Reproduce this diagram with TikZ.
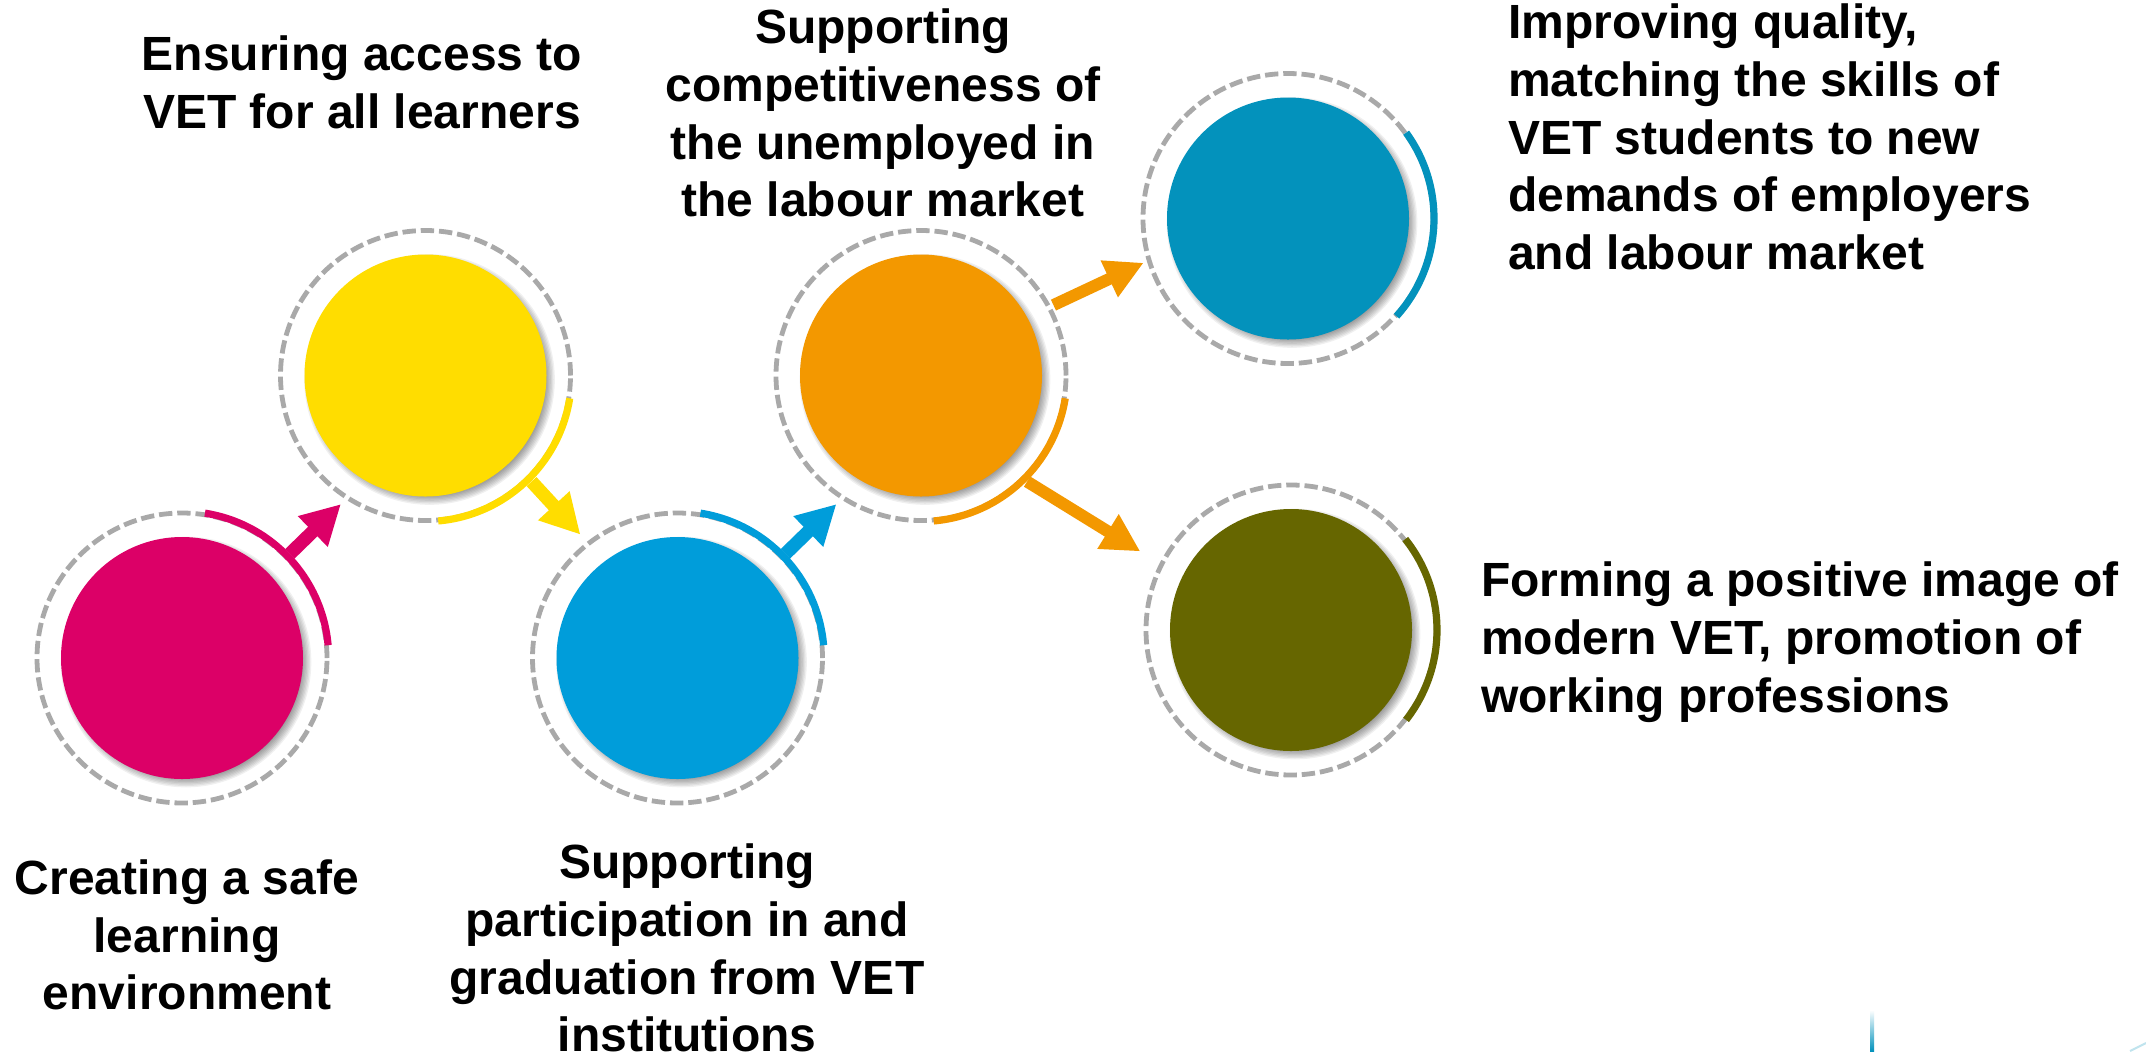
\documentclass[tikz,border=0pt]{standalone}
\usepackage{fontspec}
\setmainfont{Liberation Sans}
\usetikzlibrary{arrows.meta,calc}
\definecolor{cpink}{HTML}{DC0067}
\definecolor{cyellow}{HTML}{FFDD00}
\definecolor{cblue}{HTML}{009DDA}
\definecolor{corange}{HTML}{F39800}
\definecolor{cteal}{HTML}{0392BC}
\definecolor{colive}{HTML}{666600}
\definecolor{cring}{HTML}{A9A9A9}
\tikzset{
  disc/.style={circle,minimum size=181.5pt,inner sep=0pt,outer sep=0pt,fill=#1},
  ring/.style={circle,minimum size=217.5pt,inner sep=0pt,outer sep=3.75pt,draw=cring,line width=3.6pt,dash pattern=on 10pt off 3.7pt},
  link/.style={draw=#1,line width=9pt,-{Triangle[length=28.5pt,width=28.5pt]}},
  biglink/.style={draw=#1,line width=10pt,-{Triangle[length=29.5pt,width=30pt]}},
  swoosh/.style={draw=#1,line width=5.4pt},
  caption/.style={font=\bfseries\fontsize{36pt}{43.3pt}\selectfont,text=black,inner sep=0pt},
}
\newcommand{\bubble}[4]{%
  \foreach \r in {85,86,...,94}{\fill[black,opacity=.06] (#1,#2) ++(3pt,-3pt) circle[radius=\r pt];}
  \node[ring] (#4r) at (#1,#2) {};
  \node[disc=#3] (#4) at (#1,#2) {};
}
\newcommand{\swooshon}[4]{%
  \draw[swoosh=#1] ([shift={(#3:#2pt)}]#4.center) arc[start angle=#3,end angle=\swend,radius=#2pt];
}
\begin{document}
\begin{tikzpicture}[x=0.75pt,y=-0.75pt]
\useasboundingbox (0,0) rectangle (2146,1051);
\fill[white] (0,0) rectangle (2146,1051);
\bubble{182}{658}{cpink}{pink}
\bubble{425.5}{375.5}{cyellow}{yellow}
\bubble{677.5}{658}{cblue}{blue}
\bubble{921}{375.5}{corange}{orange}
\bubble{1288}{218.5}{cteal}{teal}
\bubble{1291}{630}{colive}{olive}
% connectors
\draw[biglink=cpink,shorten >=3pt] (pinkr.44.6) -- (yellowr.237.1);
\draw[biglink=cyellow,shorten >=5.25pt] (yellowr.-45.5) -- (bluer.128.2);
\draw[biglink=cblue,shorten >=3pt] (bluer.44.6) -- (oranger.237.1);
\draw[link=corange,shorten >=.75pt] (oranger.28.7) -- (tealr.197.7);
\draw[link=corange,shorten >=15pt] (oranger.-45) -- (oliver.153.3);
% arcs
\def\swend{5}\swooshon{cpink}{110}{81}{pink}
\swooshon{cblue}{110}{81}{blue}
\def\swend{-9}\swooshon{cyellow}{109.5}{-85}{yellow}
\swooshon{corange}{109.5}{-85}{orange}
\def\swend{-42}\swooshon{cteal}{109.5}{36}{teal}
\def\swend{-38}\swooshon{colive}{109.5}{38.5}{olive}
% captions
\node[caption,align=center] (t1) at (362,82) {Ensuring access to\\VET for all learners};
\node[caption,align=center] (t2) at (883,113) {Supporting\\competitiveness of\\the unemployed in\\the labour market};
\node[caption,align=left,anchor=west] (t3) at (1508,137) {Improving quality,\\matching the skills of\\VET students to new\\demands of employers\\and labour market};
\node[caption,align=left,anchor=west] (t4) at (1481,642) {Forming a positive image of\\modern VET, promotion of\\working professions};
\node[caption,align=center] (t5) at (187,935) {Creating a safe\\learning\\environment};
\node[caption,align=center] (t6) at (687,948) {Supporting\\participation in and\\graduation from VET\\institutions};
% cropped mark at the bottom edge
\shade[top color=white,bottom color=cteal] (1870,1010) rectangle (1874,1051);
\draw[cteal!25,line width=1.5pt] (2130,1051) -- (2146,1043);
\end{tikzpicture}
\end{document}
